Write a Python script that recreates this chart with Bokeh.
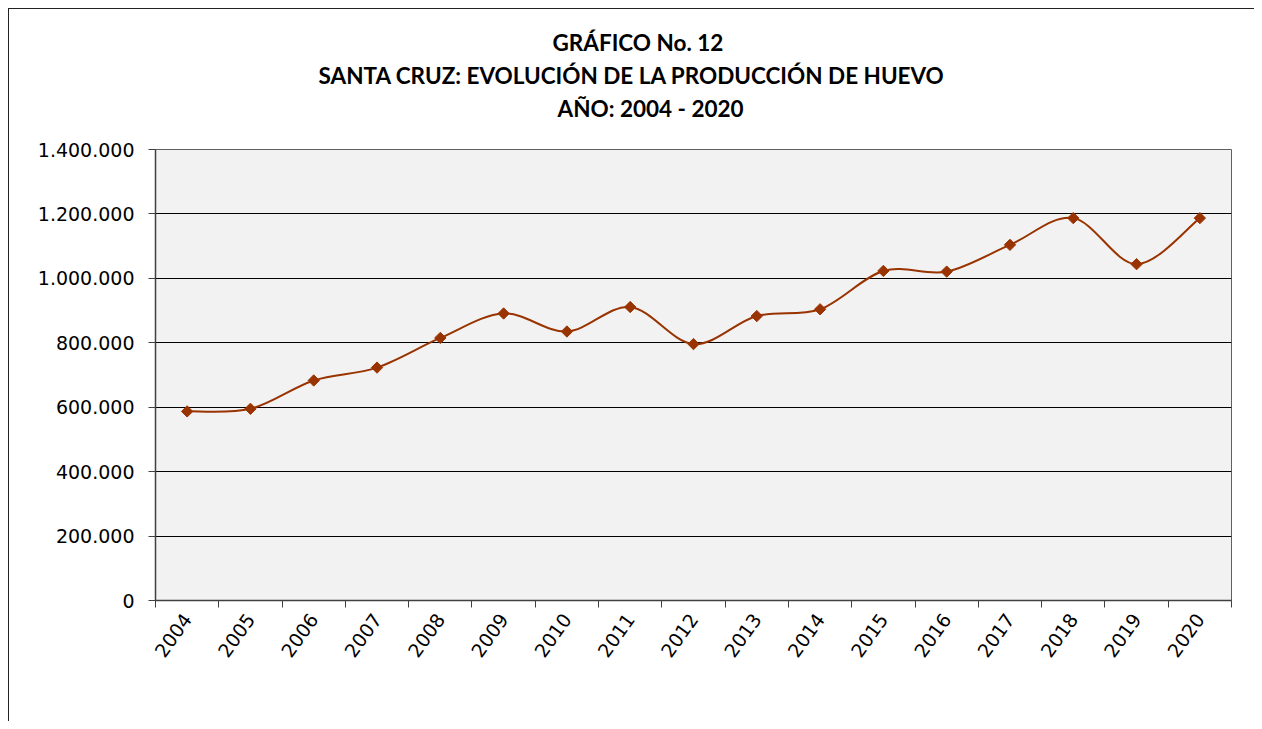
import math
from bokeh.plotting import figure
from bokeh.models import Range1d, FixedTicker, Title
from bokeh.embed import file_html
from bokeh.resources import INLINE

years = [2004, 2005, 2006, 2007, 2008, 2009, 2010, 2011, 2012,
         2013, 2014, 2015, 2016, 2017, 2018, 2019, 2020]
produccion = [587000, 595000, 683000, 723000, 815000, 891000, 835000, 911000, 796000,
              883000, 904000, 1023000, 1021000, 1104000, 1187000, 1044000, 1187000]
y_ticks = [0, 200000, 400000, 600000, 800000, 1000000, 1200000, 1400000]
y_tick_labels = ["0", "200.000", "400.000", "600.000", "800.000",
                 "1.000.000", "1.200.000", "1.400.000"]
title_lines = ["GRÁFICO No. 12",
               "SANTA CRUZ: EVOLUCIÓN DE LA PRODUCCIÓN DE HUEVO",
               "AÑO: 2004 - 2020"]

LINE = "#993300"
AX = "#404040"

n = len(years)
xs = [i + 0.5 for i in range(n)]

p = figure(width=1246, height=713, output_backend="svg", toolbar_location=None,
           x_range=Range1d(0, n), y_range=Range1d(0, 1400000),
           min_border_left=146, min_border_right=24, min_border_top=140,
           min_border_bottom=122)
p.styles = {"margin-left": "8px", "margin-top": "8px",
            "border-left": "1px solid #222", "border-top": "1px solid #222"}
p.background_fill_color = "#f2f2f2"
p.border_fill_color = "white"
p.outline_line_color = "#606060"
p.outline_line_width = 1

# spacer between plot frame and the title block
p.add_layout(Title(text=" ", text_font_size="1px", standoff=23), "above")
# title lines, stacked outward from the plot frame
title_offsets = [397, 163, 402]
title_standoffs = [4, 4, 4]
for txt, off, so in reversed(list(zip(title_lines, title_offsets, title_standoffs))):
    p.add_layout(Title(text=txt, align="left", offset=off, standoff=so,
                       text_font="Lato", text_font_style="bold",
                       text_font_size="22.5px", text_color="black"), "above")

# x axis
p.xaxis.ticker = FixedTicker(ticks=xs, minor_ticks=list(range(n + 1)))
p.xaxis.major_label_overrides = {x: str(y) for x, y in zip(xs, years)}
p.xaxis.major_tick_line_color = None
p.xaxis.minor_tick_line_color = AX
p.xaxis.minor_tick_in = 0
p.xaxis.minor_tick_out = 7
p.xaxis.axis_line_color = AX
p.xaxis.axis_line_width = 1.5
p.xaxis.major_label_orientation = 0.95
p.xaxis.major_label_text_font = "DejaVu Sans"
p.xaxis.major_label_text_font_size = "19px"
p.xaxis.major_label_text_color = "black"
p.xaxis.major_label_standoff = 8
p.xgrid.grid_line_color = None

# y axis
p.yaxis.ticker = FixedTicker(ticks=y_ticks, minor_ticks=[])
p.yaxis.major_label_overrides = {t: l for t, l in zip(y_ticks, y_tick_labels)}
p.yaxis.major_tick_line_color = AX
p.yaxis.major_tick_in = 0
p.yaxis.major_tick_out = 7
p.yaxis.axis_line_color = AX
p.yaxis.axis_line_width = 1.5
p.yaxis.major_label_text_font = "DejaVu Sans"
p.yaxis.major_label_text_font_size = "19px"
p.yaxis.major_label_text_color = "black"
p.yaxis.major_label_standoff = 14
p.ygrid.ticker = FixedTicker(ticks=y_ticks)
p.ygrid.grid_line_color = "black"
p.ygrid.grid_line_width = 1

# smoothed line (Catmull-Rom style bezier through the data points)
x0, y0, x1, y1, cx0, cy0, cx1, cy1 = [], [], [], [], [], [], [], []
for i in range(n - 1):
    xp = xs[i - 1] if i > 0 else xs[i]
    yp = produccion[i - 1] if i > 0 else produccion[i]
    xn = xs[i + 2] if i + 2 < n else xs[i + 1]
    yn = produccion[i + 2] if i + 2 < n else produccion[i + 1]
    x0.append(xs[i]); y0.append(produccion[i])
    x1.append(xs[i + 1]); y1.append(produccion[i + 1])
    cx0.append(xs[i] + (xs[i + 1] - xp) / 6)
    cy0.append(produccion[i] + (produccion[i + 1] - yp) / 6)
    cx1.append(xs[i + 1] - (xn - xs[i]) / 6)
    cy1.append(produccion[i + 1] - (yn - produccion[i]) / 6)
p.bezier(x0=x0, y0=y0, x1=x1, y1=y1, cx0=cx0, cy0=cy0, cx1=cx1, cy1=cy1,
         line_color=LINE, line_width=2)
p.scatter(xs, produccion, marker="square", angle=math.pi / 4, size=8, color=LINE)

open("out.html", "w").write(file_html(p, INLINE))
